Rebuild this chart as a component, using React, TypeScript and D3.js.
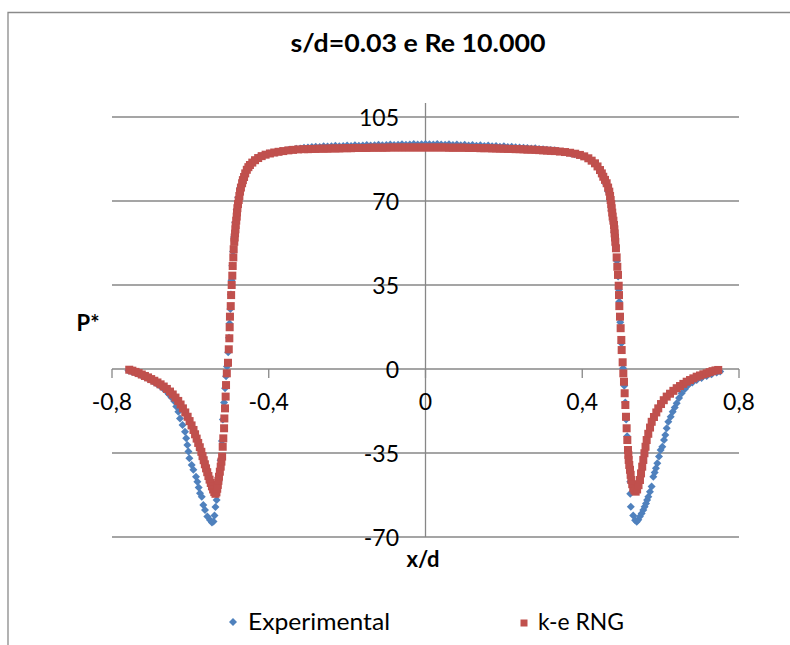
import React from "react";
import * as d3 from "d3";

const title = "s/d=0.03 e Re 10.000";
const xTicks = [-0.8, -0.4, 0, 0.4, 0.8];
const xTickLabels = ["-0,8", "-0,4", "0", "0,4", "0,8"];
const yTicks = [105, 70, 35, 0, -35, -70];
const yTickLabels = ["105", "70", "35", "0", "-35", "-70"];
const seriesNames = ["Experimental", "k-e RNG"];

// Experimental (x/d, P*)
const experimental: [number, number][] = [
  [-0.758, -0.6], [-0.75, -1.0], [-0.742, -1.4], [-0.734, -1.9], [-0.726, -2.5], [-0.718, -3.1],
  [-0.71, -3.8], [-0.702, -4.5], [-0.694, -5.3], [-0.686, -6.1], [-0.678, -7.0], [-0.67, -8.0],
  [-0.662, -9.2], [-0.655, -10.5], [-0.648, -11.9], [-0.641, -13.4], [-0.636, -15.6], [-0.6307, -17.8],
  [-0.6264, -20.6], [-0.62, -23.3], [-0.6137, -26.1], [-0.6107, -28.9], [-0.6077, -31.7], [-0.605, -34.4],
  [-0.6026, -37.2], [-0.5966, -40.0], [-0.5924, -42.0], [-0.5856, -44.9], [-0.5822, -47.0], [-0.5788, -49.4],
  [-0.5754, -51.8], [-0.571, -53.2], [-0.567, -56.7], [-0.5626, -58.75], [-0.5568, -61.5], [-0.55, -62.9],
  [-0.545, -64.0], [-0.541, -63.5], [-0.5385, -61.0], [-0.536, -57.5], [-0.533, -54.6], [-0.528, -47.0],
  [-0.523, -38.0], [-0.5195, -30.0], [-0.517, -21.0], [-0.514, -14.0], [-0.5115, -8.0], [-0.509, -3.0],
  [-0.5065, 1.0], [-0.5035, 7.0], [-0.5015, 13.0], [-0.5, 19.0], [-0.498, 25.0], [-0.4965, 31.0],
  [-0.495, 37.0], [-0.493, 43.0], [-0.491, 49.0], [-0.4885, 55.0], [-0.4855, 61.0], [-0.482, 66.5],
  [-0.478, 71.5], [-0.473, 75.5], [-0.466, 79.5], [-0.459, 82.5], [-0.45, 85.0], [-0.44, 86.8],
  [-0.428, 88.1], [-0.415, 89.1], [-0.4, 89.8],
  [-0.39, 90.0], [-0.38, 90.2], [-0.37, 90.6], [-0.36, 90.8], [-0.35, 91.2], [-0.34, 91.4], [-0.33, 91.8],
  [-0.32, 91.9], [-0.31, 92.2], [-0.3, 92.3], [-0.29, 92.5], [-0.28, 92.6], [-0.27, 92.5], [-0.26, 92.8],
  [-0.25, 92.7], [-0.24, 92.8], [-0.23, 93.0], [-0.22, 92.8], [-0.21, 92.9], [-0.2, 93.1], [-0.19, 92.9],
  [-0.18, 93.2], [-0.17, 93.0], [-0.16, 93.1], [-0.15, 93.3], [-0.14, 93.1], [-0.13, 93.2], [-0.12, 93.4],
  [-0.11, 93.2], [-0.1, 93.3], [-0.09, 93.5], [-0.08, 93.3], [-0.07, 93.4], [-0.06, 93.6], [-0.05, 93.4],
  [-0.04, 93.5], [-0.03, 93.7], [-0.02, 93.5], [-0.01, 93.6], [0.0, 93.8], [0.01, 93.6], [0.02, 93.5],
  [0.03, 93.7], [0.04, 93.5], [0.05, 93.4], [0.06, 93.6], [0.07, 93.3], [0.08, 93.5], [0.09, 93.2],
  [0.1, 93.4], [0.11, 93.1], [0.12, 93.3], [0.13, 93.0], [0.14, 93.2], [0.15, 92.9], [0.16, 93.1],
  [0.17, 92.8], [0.18, 92.9], [0.19, 92.6], [0.2, 92.8], [0.21, 92.5], [0.22, 92.6], [0.23, 92.4],
  [0.24, 92.3], [0.25, 92.2], [0.26, 92.1], [0.27, 91.9], [0.28, 92.0], [0.29, 91.7], [0.3, 91.6],
  [0.31, 91.4], [0.32, 91.2], [0.33, 91.1], [0.34, 90.8], [0.35, 90.5], [0.36, 90.2], [0.37, 89.9],
  [0.38, 89.5], [0.39, 89.2],
  [0.4, 88.8], [0.41, 88.1], [0.42, 87.1], [0.43, 85.9], [0.44, 84.2], [0.448, 82.2], [0.455, 79.8],
  [0.461, 77.0], [0.466, 74.0], [0.4705, 70.5], [0.4745, 66.0], [0.479, 61.5], [0.482, 57.0], [0.4855, 51.0],
  [0.4885, 45.0], [0.4915, 38.5], [0.4935, 33.0], [0.4944, 28.0], [0.497, 19.5], [0.4999, 10.7], [0.5041, 0.3],
  [0.5072, -7.0], [0.5097, -14.0], [0.512, -21.0], [0.5145, -28.0], [0.5172, -35.0], [0.521, -41.0],
  [0.5225, -47.0], [0.5225, -52.0], [0.524, -57.4], [0.53, -61.0], [0.535, -63.0], [0.539, -63.6],
  [0.543, -62.8], [0.547, -61.5], [0.5515, -60.2], [0.5558, -58.75], [0.5592, -57.4], [0.5627, -56.0],
  [0.5656, -54.6], [0.5686, -53.2], [0.5728, -51.1], [0.577, -49.0], [0.5813, -44.9], [0.5848, -43.1],
  [0.588, -41.4], [0.5915, -39.3], [0.5958, -36.5], [0.6, -33.75], [0.6043, -32.4], [0.6086, -29.6],
  [0.612, -27.5], [0.6155, -24.7], [0.6196, -22.0], [0.6257, -19.9], [0.6308, -17.8], [0.636, -16.0],
  [0.641, -14.3], [0.647, -12.1], [0.6537, -10.1], [0.662, -8.3], [0.6706, -6.7], [0.681, -5.6],
  [0.692, -4.6], [0.7045, -3.7], [0.7175, -2.9], [0.73, -2.2], [0.743, -1.5], [0.752, -1.0],
];

// k-e RNG (x/d, P*)
const kERng: [number, number][] = [
  [-0.756, -0.3], [-0.748, -0.7], [-0.74, -1.2], [-0.732, -1.7], [-0.724, -2.3], [-0.716, -2.9],
  [-0.708, -3.5], [-0.7, -4.2], [-0.692, -4.9], [-0.684, -5.6], [-0.676, -6.4], [-0.668, -7.3],
  [-0.66, -8.3], [-0.652, -9.4], [-0.645, -10.6], [-0.638, -11.9], [-0.631, -13.3], [-0.625, -14.8],
  [-0.619, -16.4], [-0.613, -18.1], [-0.607, -19.9], [-0.602, -21.7], [-0.597, -23.5], [-0.592, -25.4],
  [-0.588, -27.2], [-0.584, -29.0], [-0.58, -30.8], [-0.576, -32.6], [-0.572, -34.5], [-0.569, -36.3],
  [-0.566, -38.0], [-0.563, -39.7], [-0.56, -41.4], [-0.557, -43.0], [-0.554, -44.6], [-0.551, -46.1],
  [-0.548, -47.5], [-0.545, -48.9], [-0.542, -50.2], [-0.539, -51.3], [-0.536, -52.0], [-0.5335, -51.4],
  [-0.5315, -49.9], [-0.53, -48.3], [-0.5285, -46.6], [-0.527, -44.9], [-0.5248, -42.8], [-0.5226, -40.7],
  [-0.5208, -38.6], [-0.519, -36.5], [-0.5175, -32.4], [-0.516, -28.9], [-0.514, -24.7], [-0.5133, -20.6],
  [-0.5116, -16.4], [-0.51, -11.5], [-0.509, -6.7], [-0.507, -1.8], [-0.504, 2.6], [-0.502, 8.2],
  [-0.5006, 12.8], [-0.4997, 17.4], [-0.499, 21.8], [-0.497, 26.2], [-0.496, 30.8], [-0.4946, 35.0],
  [-0.493, 38.9], [-0.492, 42.9], [-0.4904, 46.5], [-0.4895, 49.9], [-0.488, 53.0], [-0.487, 54.8],
  [-0.486, 56.5], [-0.485, 58.2], [-0.4844, 60.0], [-0.483, 61.8], [-0.4818, 63.5], [-0.481, 65.2],
  [-0.48, 67.0], [-0.4785, 68.7], [-0.4767, 70.4], [-0.475, 72.1], [-0.4733, 73.9], [-0.471, 75.6],
  [-0.468, 77.4], [-0.466, 78.7], [-0.463, 80.0], [-0.46, 81.5], [-0.456, 83.0], [-0.452, 84.1],
  [-0.448, 85.0], [-0.442, 86.0], [-0.435, 87.0], [-0.427, 87.9], [-0.418, 88.7], [-0.408, 89.3],
  [-0.397, 89.8], [-0.386, 90.2], [-0.375, 90.5], [-0.363, 90.8], [-0.35, 91.1], [-0.338, 91.3],
  [-0.325, 91.5], [-0.31, 91.6], [-0.3, 91.6], [-0.29, 91.7], [-0.28, 91.7], [-0.27, 91.8], [-0.26, 91.8],
  [-0.25, 91.8], [-0.24, 91.9], [-0.23, 91.9], [-0.22, 91.9], [-0.21, 92.0], [-0.2, 92.0], [-0.19, 92.0],
  [-0.18, 92.1], [-0.17, 92.1], [-0.16, 92.1], [-0.15, 92.1], [-0.14, 92.2], [-0.13, 92.2], [-0.12, 92.2],
  [-0.11, 92.2], [-0.1, 92.2], [-0.09, 92.3], [-0.08, 92.3], [-0.07, 92.3], [-0.06, 92.3], [-0.05, 92.3],
  [-0.04, 92.3], [-0.03, 92.3], [-0.02, 92.3], [-0.01, 92.3], [0.0, 92.3], [0.01, 92.3], [0.02, 92.3],
  [0.03, 92.3], [0.04, 92.3], [0.05, 92.3], [0.06, 92.2], [0.07, 92.2], [0.08, 92.2], [0.09, 92.2],
  [0.1, 92.2], [0.11, 92.1], [0.12, 92.1], [0.13, 92.1], [0.14, 92.0], [0.15, 92.0], [0.16, 92.0],
  [0.17, 91.9], [0.18, 91.9], [0.19, 91.8], [0.2, 91.8], [0.21, 91.7], [0.22, 91.7], [0.23, 91.6],
  [0.24, 91.6], [0.25, 91.5], [0.26, 91.4], [0.27, 91.4], [0.28, 91.3], [0.29, 91.2], [0.3, 91.1],
  [0.31, 91.0], [0.32, 90.9], [0.33, 90.8], [0.343, 90.6], [0.356, 90.4], [0.369, 90.1], [0.382, 89.7],
  [0.394, 89.2], [0.405, 88.6], [0.4155, 87.8], [0.424, 86.8], [0.4325, 85.7], [0.439, 84.4],
  [0.4453, 82.9], [0.45, 81.5], [0.4537, 80.1], [0.458, 78.8], [0.4623, 77.4], [0.466, 75.6],
  [0.469, 73.9], [0.471, 72.1], [0.4725, 70.4], [0.474, 68.7], [0.475, 67.0], [0.4765, 65.2],
  [0.4776, 63.5], [0.4795, 61.8], [0.481, 60.0], [0.482, 58.2], [0.4827, 56.5], [0.4836, 54.8],
  [0.4844, 53.0], [0.486, 50.3], [0.4878, 46.5], [0.4895, 42.6], [0.4912, 39.2], [0.493, 34.7],
  [0.4938, 30.8], [0.4946, 26.2], [0.4963, 21.8], [0.498, 17.0], [0.4997, 12.1], [0.5006, 7.9],
  [0.5031, 2.8], [0.5048, -1.8], [0.5065, -5.3], [0.5082, -10.1], [0.51, -15.0], [0.5116, -19.9],
  [0.5133, -24.7], [0.515, -29.6], [0.5167, -33.75], [0.5176, -35.8], [0.5185, -37.9], [0.52, -40.0],
  [0.5218, -42.0], [0.5235, -44.1], [0.5252, -46.25], [0.5275, -48.0], [0.53, -49.7], [0.533, -50.6],
  [0.5363, -51.1], [0.54, -50.2], [0.5436, -48.4], [0.5473, -46.25], [0.55, -43.5], [0.553, -40.7],
  [0.5558, -37.9], [0.5587, -35.1], [0.5615, -32.4], [0.5644, -29.6], [0.5685, -27.0], [0.573, -24.4],
  [0.5772, -22.0], [0.583, -20.0], [0.589, -18.1], [0.594, -16.4], [0.601, -14.6], [0.608, -13.0],
  [0.6155, -11.5], [0.624, -10.3], [0.6325, -9.1], [0.641, -8.0], [0.6495, -7.1], [0.658, -6.2],
  [0.6665, -5.3], [0.675, -4.6], [0.6835, -3.9], [0.692, -3.2], [0.7005, -2.7], [0.709, -2.2],
  [0.7175, -1.8], [0.725, -1.3], [0.7325, -0.9], [0.74, -0.6], [0.747, -0.4],
];

const BLUE = "#4F81BD";
const RED = "#C0504D";
const GRID = "#878787";
const FONT = "Lato, 'Open Sans', sans-serif";

export default function App() {
  const W = 790;
  const H = 645;
  const x = d3.scaleLinear().domain([-0.8, 0.8]).range([112, 739]);
  const y = d3.scaleLinear().domain([-70, 105]).range([537, 117]);
  const r = 4;
  const diamond = `M0,${-r}L${r},0L0,${r}L${-r},0Z`;
  const sq = 4;
  const x0 = x(0);
  const y0 = y(0);

  return (
    <svg
      width={W}
      height={H}
      style={{ position: "absolute", left: 0, top: 0, background: "#fff" }}
      fontFamily={FONT}
    >
      <rect x={0} y={0} width={W} height={H} fill="#fff" />
      {/* chart border */}
      <path d={`M8,${H + 5}V12.5H${W + 5}`} fill="none" stroke="#8a8a8a" strokeWidth={1.3} />

      {/* title */}
      <text x={418} y={52} textAnchor="middle" fontWeight="bold" fontSize={25} fill="#000"
        textLength={255} lengthAdjust="spacingAndGlyphs">
        {title}
      </text>

      {/* gridlines */}
      {yTicks.map((t) => (
        <line key={"g" + t} x1={x(-0.8)} x2={x(0.8)} y1={y(t)} y2={y(t)} stroke={GRID} strokeWidth={1.3} />
      ))}
      {/* y axis */}
      <line x1={x0} x2={x0} y1={103} y2={y(-70)} stroke={GRID} strokeWidth={1.3} />
      {/* x ticks */}
      {xTicks.map((t) => (
        <line key={"xt" + t} x1={x(t)} x2={x(t)} y1={y0} y2={y0 + 9} stroke={GRID} strokeWidth={1.3} />
      ))}

      {/* y tick labels */}
      {yTicks.map((t, i) => (
        <text key={"yl" + t} x={399} y={y(t) + 8.5} textAnchor="end" fontSize={23} fill="#000">
          {yTickLabels[i]}
        </text>
      ))}
      {/* x tick labels */}
      {xTicks.map((t, i) => (
        <text key={"xl" + t} x={x(t)} y={410} textAnchor="middle" fontSize={23} fill="#000">
          {xTickLabels[i]}
        </text>
      ))}

      {/* axis titles */}
      <text x={88} y={331} textAnchor="middle" fontWeight="bold" fontSize={22} fill="#000">P*</text>
      <text x={423} y={567} textAnchor="middle" fontWeight="bold" fontSize={22} fill="#000">x/d</text>

      {/* experimental */}
      <g fill={BLUE}>
        {experimental.map((d, i) => (
          <path key={"e" + i} d={diamond} transform={`translate(${x(d[0])},${y(d[1])})`} />
        ))}
      </g>
      {/* k-e RNG */}
      <g fill={RED}>
        {kERng.map((d, i) => (
          <rect key={"k" + i} x={x(d[0]) - sq} y={y(d[1]) - sq} width={sq * 2} height={sq * 2} />
        ))}
      </g>

      {/* legend */}
      <path d={diamond} transform="translate(233,622)" fill={BLUE} />
      <text x={248} y={630} fontSize={23} fill="#000" textLength={142} lengthAdjust="spacingAndGlyphs">
        {seriesNames[0]}
      </text>
      <rect x={524 - 3.5} y={623 - 3.5} width={7} height={7} fill={RED} />
      <text x={538} y={630} fontSize={23} fill="#000" textLength={86} lengthAdjust="spacingAndGlyphs">
        {seriesNames[1]}
      </text>
    </svg>
  );
}
